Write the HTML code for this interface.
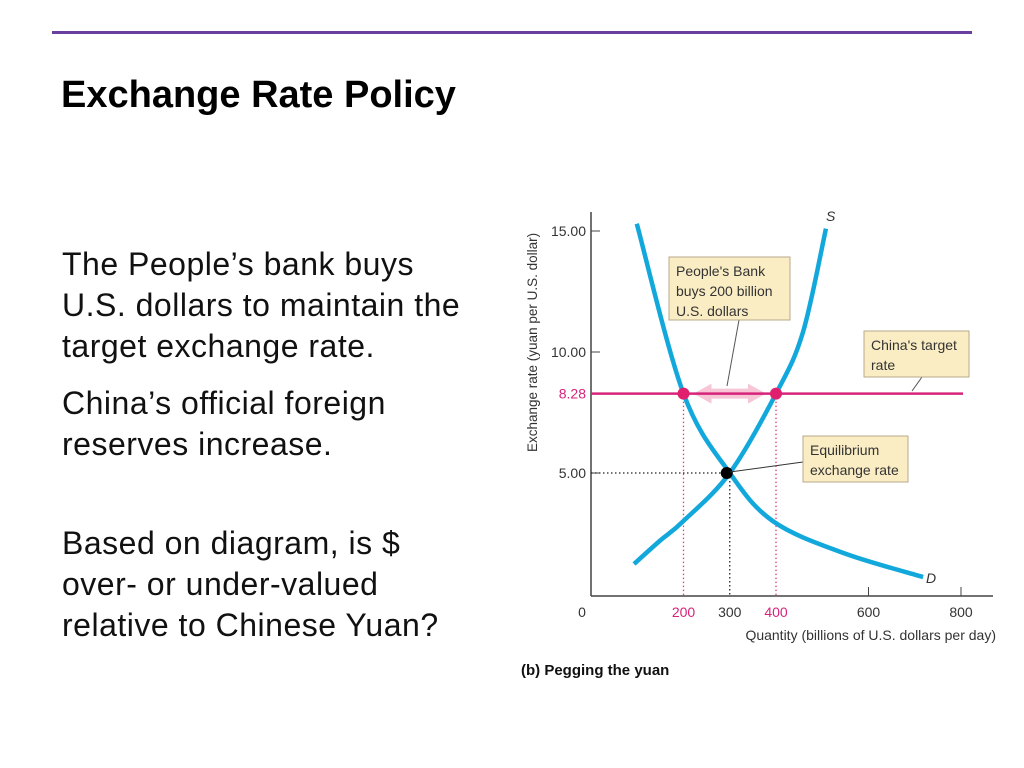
<!DOCTYPE html>
<html><head><meta charset="utf-8"><style>
body{margin:0;width:1024px;height:768px;background:#fff;overflow:hidden;position:relative;font-family:"Liberation Sans",Arial,sans-serif}
.t{position:absolute;left:62px;color:#111;font-size:32px;line-height:41px;letter-spacing:0.5px}
</style></head><body>
<div style="position:absolute;left:52px;top:31px;width:920px;height:3px;background:#6a3fa0"></div>
<div style="position:absolute;left:61px;top:74px;font-size:38px;font-weight:bold;color:#000">Exchange Rate Policy</div>
<div class="t" style="top:244px">The People’s bank buys<br>U.S. dollars to maintain the<br>target exchange rate.</div>
<div class="t" style="top:383px">China’s official foreign<br>reserves increase.</div>
<div class="t" style="top:523px">Based on diagram, is $<br>over- or under-valued<br>relative to Chinese Yuan?</div>
<svg width="1024" height="768" style="position:absolute;left:0;top:0" font-family="Liberation Sans, Arial, sans-serif">
<g id="g"></g>
</svg>
<script>
const supplyQ=[93,149,199,300,400,458,508];
const supplyR=[1.24,2.2,3.0,5.0,8.28,10.8,15.1];
const demandQ=[99,200,300,394,545,718];
const demandR=[15.3,8.28,5.0,3.0,1.7,0.7];
const xTicks=[0,200,300,400,600,800];
const yTicks=[5,10,15];
const target=8.28, eqQ=300, eqR=5, buyLo=200, buyHi=400;
const X=q=>591+q*0.4625, Y=r=>594-r*24.2;
const g=document.getElementById('g');const NS='http://www.w3.org/2000/svg';
function el(t,a,txt){const e=document.createElementNS(NS,t);for(const k in a)e.setAttribute(k,a[k]);if(txt!==undefined)e.textContent=txt;g.appendChild(e);return e;}
function path(qs,rs){const p=qs.map((q,i)=>[X(q),Y(rs[i])]);let d='M'+p[0];for(let i=0;i<p.length-1;i++){const a=p[i-1]||p[i],b=p[i],c=p[i+1],e=p[i+2]||c;d+=' C'+(b[0]+(c[0]-a[0])/6)+','+(b[1]+(c[1]-a[1])/6)+' '+(c[0]-(e[0]-b[0])/6)+','+(c[1]-(e[1]-b[1])/6)+' '+c;}return d;}
let e;
e=el('line',{x1:591,y1:212,x2:591,y2:596,stroke:'#444','stroke-width':1.5});

e=el('line',{x1:591,y1:596,x2:993,y2:596,stroke:'#444','stroke-width':1.5});

yTicks.forEach(v=>{e=el('line',{x1:591,x2:600,y1:Y(v),y2:Y(v),stroke:'#444'});
e=el('text',{x:586,y:Y(v)+5,'text-anchor':'end','font-size':14,fill:'#333'},v.toFixed(2));});
e=el('text',{x:586,y:Y(target)+5,'text-anchor':'end','font-size':14,fill:'#d6247a'},target.toFixed(2));
xTicks.forEach(v=>{if(v>=600){e=el('line',{x1:X(v),x2:X(v),y1:587,y2:596,stroke:'#444'});}
const col=(v==200||v==400)?'#d6247a':'#333';
e=el('text',{x:v==0?582:X(v),y:617,'text-anchor':'middle','font-size':14,fill:col},String(v));});
e=el('text',{x:996,y:640,'text-anchor':'end','font-size':14,fill:'#333'},'Quantity (billions of U.S. dollars per day)');
e=el('text',{x:0,y:0,'font-size':13.5,fill:'#333',transform:'translate(537,452) rotate(-90)'},'Exchange rate (yuan per U.S. dollar)');
e=el('text',{x:521,y:675,'font-size':15,'font-weight':'bold',fill:'#111'},'(b) Pegging the yuan');
[[buyLo,target,'#e0407f'],[buyHi,target,'#e0407f'],[eqQ,eqR,'#222']].forEach(a=>{e=el('line',{x1:X(a[0]),x2:X(a[0]),y1:Y(a[1]),y2:596,stroke:a[2],'stroke-dasharray':'1.5,2.5','stroke-width':1.3});});
e=el('line',{x1:591,x2:X(eqQ),y1:Y(eqR),y2:Y(eqR),stroke:'#222','stroke-dasharray':'1.5,2.5','stroke-width':1.3});
const ay=Y(target),ax1=X(buyLo)+10,ax2=X(buyHi)-10;
e=el('polygon',{points:`${ax1},${ay} ${ax1+18},${ay-10} ${ax1+18},${ay-5} ${ax2-18},${ay-5} ${ax2-18},${ay-10} ${ax2},${ay} ${ax2-18},${ay+10} ${ax2-18},${ay+5} ${ax1+18},${ay+5} ${ax1+18},${ay+10}`,fill:'#f7c6d6'});
e=el('line',{x1:591,x2:963,y1:Y(target),y2:Y(target),stroke:'#d6247a','stroke-width':2.5});
e=el('path',{d:path(supplyQ,supplyR),fill:'none',stroke:'#13a8dc','stroke-width':4.5});
e=el('path',{d:path(demandQ,demandR),fill:'none',stroke:'#13a8dc','stroke-width':4.5});
e=el('text',{x:826,y:221,'font-size':14,'font-style':'italic',fill:'#333'},'S');
e=el('text',{x:926,y:583,'font-size':14,'font-style':'italic',fill:'#333'},'D');
[buyLo,buyHi].forEach(q=>{e=el('circle',{cx:X(q),cy:Y(target),r:6,fill:'#e0206f'});});
e=el('circle',{cx:X(eqQ)-3,cy:Y(eqR),r:6,fill:'#000'});
function box(x,y,w,h,lines,name){e=el('rect',{x,y,width:w,height:h,fill:'#faedc4',stroke:'#b8a98a'});
lines.forEach((s,i)=>{e=el('text',{x:x+7,y:y+19+i*20,'font-size':14,fill:'#333'},s);});}
e=el('line',{x1:739,y1:320,x2:727,y2:386,stroke:'#555'});
e=el('line',{x1:922,y1:377,x2:912,y2:391,stroke:'#555'});
e=el('line',{x1:803,y1:462,x2:730,y2:472,stroke:'#333'});
box(669,257,121,63,["People's Bank","buys 200 billion","U.S. dollars"],'bank-callout');
box(864,331,105,46,["China's target","rate"],'target-callout');
box(803,436,105,46,["Equilibrium","exchange rate"],'equilibrium-callout');
</script>
</body></html>
